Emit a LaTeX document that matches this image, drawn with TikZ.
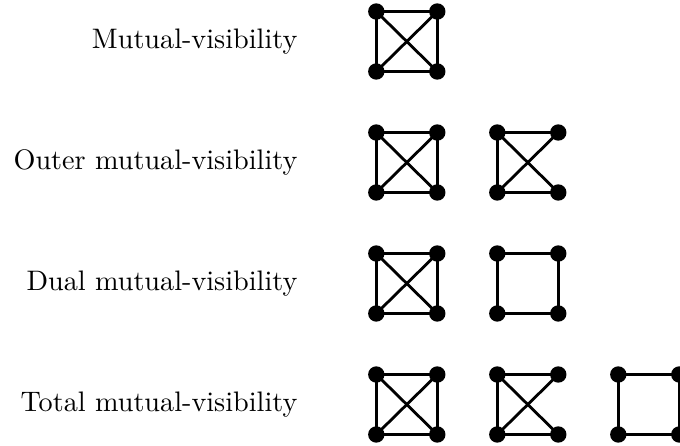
\documentclass[tikz,border=0pt]{standalone}
\begin{document}
\begin{tikzpicture}[x=0.3546pt,y=-0.3546pt,
  vtx/.style={circle,fill=black,inner sep=0pt,minimum size=5.8pt},
  edge/.style={line width=1pt},
  lbl/.style={anchor=east,inner sep=0pt,font=\fontsize{10}{12}\selectfont}]
\useasboundingbox (0,0) rectangle (680,445);
% labels
\node[lbl] (l1) at (298,41.5) {Mutual-visibility};
\node[lbl] (l2) at (298,162.5) {Outer mutual-visibility};
\node[lbl] (l3) at (298,283.5) {Dual mutual-visibility};
\node[lbl] (l4) at (298,404.5) {Total mutual-visibility};
% vertices
\foreach \r/\y in {1/11.5,2/132.5,3/253.5,4/374.5}{
  \foreach \c/\x in {1/376.3,2/497.3,3/618.3}{
    \coordinate (g\r\c a) at (\x,\y);
    \coordinate (g\r\c b) at (\x+61,\y);
    \coordinate (g\r\c c) at (\x,\y+60);
    \coordinate (g\r\c d) at (\x+61,\y+60);
  }
}
% K4 graphs
\foreach \g in {11,21,31,41}{
  \draw[edge] (g\g a) -- (g\g b) -- (g\g d) -- (g\g c) -- cycle;
  \draw[edge] (g\g a) -- (g\g d);
  \draw[edge] (g\g b) -- (g\g c);
}
% outer graphs (no right edge)
\foreach \g in {22,42}{
  \draw[edge] (g\g b) -- (g\g a) -- (g\g c) -- (g\g d);
  \draw[edge] (g\g a) -- (g\g d);
  \draw[edge] (g\g b) -- (g\g c);
}
% cycles
\foreach \g in {32,43}{
  \draw[edge] (g\g a) -- (g\g b) -- (g\g d) -- (g\g c) -- cycle;
}
% vertex dots
\foreach \g in {11,21,22,31,32,41,42,43}{
  \foreach \v in {a,b,c,d}{
    \node[vtx] (n\g\v) at (g\g\v) {};
  }
}
\end{tikzpicture}
\end{document}
